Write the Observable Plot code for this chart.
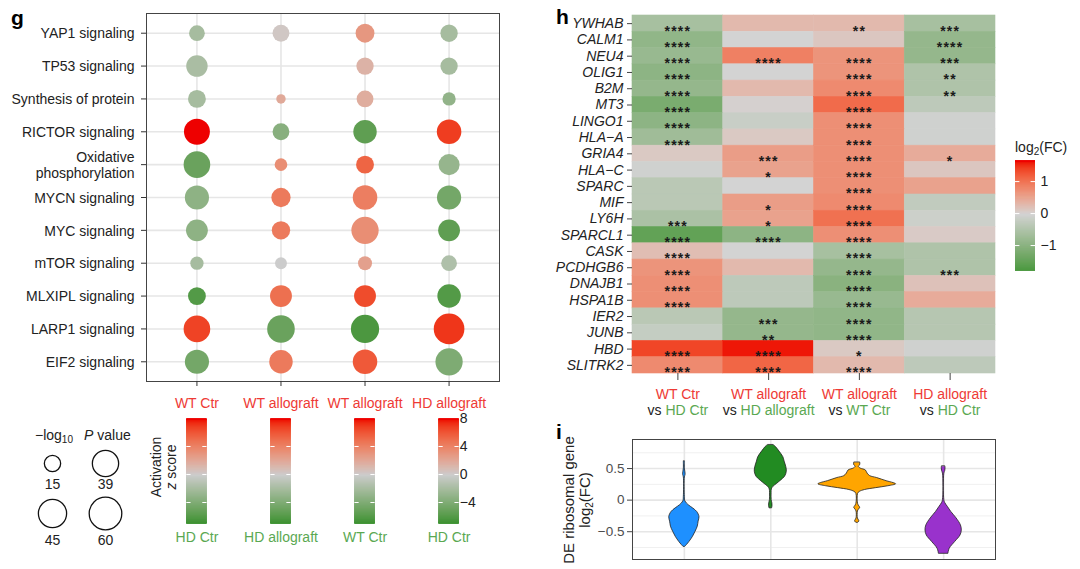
<!DOCTYPE html>
<html><head><meta charset="utf-8">
<script src="https://cdn.jsdelivr.net/npm/d3@7"></script>
<script src="https://cdn.jsdelivr.net/npm/@observablehq/plot@0.6"></script>
<style>
body{margin:0;background:#fff;font-family:"Liberation Sans",Arial,sans-serif;color:#222;}
#root{position:relative;width:1080px;height:569px;overflow:hidden;background:#fff;}
.abs{position:absolute;}
.abs svg{display:block;overflow:visible;}
.plab{position:absolute;font-weight:bold;font-size:21px;line-height:21px;color:#000;}
.txt{position:absolute;font-size:14px;line-height:16px;white-space:nowrap;}
.rot{position:absolute;transform:rotate(-90deg);text-align:center;font-size:14px;line-height:15px;white-space:nowrap;}
#heat g[aria-label="y-axis tick label"] text{font-style:italic;}
#heat g[aria-label="text"] text{letter-spacing:1.2px;}
</style></head><body><div id="root"></div>
<script>
// ---------------- DATA ----------------
// panel g
const pathways = ["YAP1 signaling","TP53 signaling","Synthesis of protein","RICTOR signaling","Oxidative\nphosphorylation","MYCN signaling","MYC signaling","mTOR signaling","MLXIPL signaling","LARP1 signaling","EIF2 signaling"];
const comparisons = ["c1","c2","c3","c4"];
const compTop = ["WT Ctr","WT allograft","WT allograft","HD allograft"];
const compBottom = ["HD Ctr","HD allograft","WT Ctr","HD Ctr"];
const zScores = [
  [-2.0, 0.3, 3.0, -2.0],
  [-1.8, null, 1.5, -2.0],
  [-2.0, 2.0, 1.8, -3.0],
  [8.0, -3.5, -5.5, 7.0],
  [-5.0, 3.5, 5.5, -2.8],
  [-3.2, 4.5, 4.3, -4.5],
  [-3.2, 4.5, 3.5, -5.5],
  [-2.0, 0.0, 2.5, -1.5],
  [-6.0, 5.0, 6.5, -6.0],
  [6.8, -5.0, -6.3, 7.2],
  [-4.5, 4.5, 6.0, -4.0]
];
const negLog10P = [
  [14, 16, 20, 17],
  [26, null, 17, 17],
  [18, 5, 16, 10],
  [38, 16, 31, 34],
  [40, 9, 18, 25],
  [33, 21, 34, 33],
  [27, 19, 42, 27],
  [10, 8, 11, 14],
  [18, 27, 27, 31],
  [40, 43, 45, 53],
  [33, 31, 34, 42]
];
const zTicks = [8, 4, 0, -4];
const sizeLegendValues = [15, 39, 45, 60];

// panel h
const genes = ["YWHAB","CALM1","NEU4","OLIG1","B2M","MT3","LINGO1","HLA−A","GRIA4","HLA−C","SPARC","MIF","LY6H","SPARCL1","CASK","PCDHGB6","DNAJB1","HSPA1B","IER2","JUNB","HBD","SLITRK2"];
const log2FC = [
  [-0.60, 0.30, 0.30, -0.60],
  [-0.90, 0.00, 0.15, -0.85],
  [-0.80, 0.90, 0.70, -0.85],
  [-0.95, 0.00, 0.70, -0.50],
  [-0.85, 0.30, 0.80, -0.50],
  [-1.20, 0.03, 1.10, -0.30],
  [-0.95, -0.15, 0.75, -0.05],
  [-0.70, 0.12, 0.75, -0.05],
  [0.12, 0.60, 0.75, 0.45],
  [-0.05, 0.55, 0.75, 0.15],
  [-0.35, 0.00, 0.75, 0.55],
  [-0.35, 0.60, 0.80, -0.25],
  [-0.55, 0.55, 1.05, -0.10],
  [-1.50, -0.95, 0.75, 0.10],
  [0.25, 0.00, -0.60, -0.50],
  [0.70, 0.30, -0.85, -0.50],
  [0.75, -0.30, -1.00, 0.20],
  [0.75, -0.30, -0.80, 0.45],
  [-0.35, -0.85, -0.90, -0.40],
  [-0.20, -0.85, -0.90, -0.40],
  [1.40, 1.62, 0.12, -0.05],
  [0.80, 1.15, 0.30, -0.30]
];
const stars = [
  ["****","","**","***"],
  ["****","","","****"],
  ["****","****","****","***"],
  ["****","","****","**"],
  ["****","","****","**"],
  ["****","","****",""],
  ["****","","****",""],
  ["****","","****",""],
  ["","***","****","*"],
  ["","*","****",""],
  ["","","****",""],
  ["","*","****",""],
  ["***","*","****",""],
  ["****","****","****",""],
  ["****","","****",""],
  ["****","","****","***"],
  ["****","","****",""],
  ["****","","****",""],
  ["","***","****",""],
  ["","**","****",""],
  ["****","****","*",""],
  ["****","****","****",""]
];
const fcTicks = [1, 0, -1];

// panel i : violin outlines [log2FC, half width]
const violinGroups = ["WT Ctr vs HD Ctr","WT allograft vs HD allograft","WT allograft vs WT Ctr","HD allograft vs HD Ctr"];
const violinFills = ["#1e90ff","#228b22","#ffa500","#9932cc"];
const violinBlue = [[0.61,0.006],[0.50,0.006],[0.44,0.012],[0.40,0.014],[0.36,0.006],[0.05,0.006],[-0.02,0.012],[-0.08,0.05],[-0.13,0.10],[-0.19,0.15],[-0.27,0.175],[-0.34,0.165],[-0.42,0.155],[-0.50,0.13],[-0.58,0.10],[-0.66,0.06],[-0.71,0.03],[-0.74,0.01]];
const violinGreen = [[0.87,0.035],[0.84,0.06],[0.77,0.10],[0.68,0.145],[0.61,0.16],[0.52,0.18],[0.45,0.185],[0.37,0.165],[0.30,0.11],[0.26,0.075],[0.21,0.03],[0.17,0.012],[0.11,0.009],[0.0,0.01],[-0.05,0.018],[-0.09,0.02],[-0.13,0.015]];
const violinOrange = [[0.59,0.035],[0.555,0.035],[0.53,0.018],[0.50,0.04],[0.47,0.10],[0.42,0.12],[0.38,0.15],[0.35,0.23],[0.30,0.34],[0.27,0.42],[0.25,0.45],[0.22,0.36],[0.19,0.22],[0.16,0.09],[0.13,0.03],[0.10,0.01],[-0.06,0.01],[-0.10,0.025],[-0.12,0.035],[-0.15,0.02],[-0.18,0.008],[-0.29,0.008],[-0.32,0.02],[-0.34,0.025],[-0.36,0.008]];
const violinPurple = [[0.53,0.02],[0.50,0.022],[0.46,0.018],[0.42,0.008],[0.0,0.008],[-0.05,0.02],[-0.11,0.05],[-0.19,0.09],[-0.29,0.15],[-0.40,0.20],[-0.48,0.21],[-0.56,0.195],[-0.66,0.135],[-0.77,0.07],[-0.85,0.055]];
const violinMajor = [-0.5, 0, 0.5];
const violinMinor = [-0.75, -0.25, 0.25, 0.75];

// ---------------- STYLE ----------------
const RED = "#ee3a35", GREEN = "#5aa852";
const FONT = '"Liberation Sans", Arial, sans-serif';
const zColor = {type: "linear", domain: [-7, 0, 8], range: ["#3a912f", "#cccccc", "#ee0000"], interpolate: "lab"};
const fcColor = {type: "linear", domain: [-1.78, 0, 1.66], range: ["#4a983f", "#d3d3d3", "#ee0000"], interpolate: "lab"};
const rScale = {domain: [0, 60], range: [0, 16.3]};

const root = document.getElementById("root");
function place(node, left, top, id) {
  const d = document.createElement("div");
  d.className = "abs"; d.style.left = left + "px"; d.style.top = top + "px";
  if (id) d.id = id;
  d.appendChild(node); root.appendChild(d); return d;
}
function html(cls, left, top, inner, extra) {
  const d = document.createElement("div");
  d.className = cls; d.style.left = left + "px"; d.style.top = top + "px";
  if (extra) Object.assign(d.style, extra);
  d.innerHTML = inner; root.appendChild(d); return d;
}

// ---------------- PANEL g ----------------
const dotData = [];
pathways.forEach((p, i) => comparisons.forEach((c, j) => {
  if (negLog10P[i][j] != null) dotData.push({pathway: p, comp: c, z: zScores[i][j], p: negLog10P[i][j]});
}));

const gPlot = Plot.plot({
  width: 510, height: 420,
  marginLeft: 146, marginRight: 11, marginTop: 13, marginBottom: 39,
  style: {fontFamily: FONT, fontSize: "14px", color: "#222", background: "transparent"},
  x: {type: "point", domain: comparisons, padding: 0.6, round: false},
  y: {type: "point", domain: pathways, padding: 0.6, round: false},
  r: rScale,
  color: zColor,
  marks: [
    Plot.gridX({stroke: "#e6e6e6", strokeOpacity: 1, strokeWidth: 1.6}),
    Plot.gridY({stroke: "#e6e6e6", strokeOpacity: 1, strokeWidth: 1.6}),
    Plot.frame({stroke: "#444", strokeWidth: 1}),
    Plot.axisY({tickSize: 5, tickPadding: 7, label: null, fontSize: 14, lineHeight: 1.15, stroke: "#333", fill: "#222"}),
    Plot.axisX({tickSize: 5, tickPadding: 12, label: null, fontSize: 14, stroke: "#333", fill: RED,
      tickFormat: d => compTop[comparisons.indexOf(d)]}),
    Plot.dot(dotData, {x: "comp", y: "pathway", r: "p", fill: "z", stroke: "none"})
  ]
});
place(gPlot, 0, 0);

// colour bars under panel g
const zSteps = d3.range(-7, 8.001, 0.05);
const zBars = [];
comparisons.forEach((c, i) => zSteps.forEach(v => zBars.push({i, v})));
const zTickMarks = [];
comparisons.forEach((c, i) => zTicks.filter(t => t !== 8).forEach(t => zTickMarks.push({i, t})));
const gBar = Plot.plot({
  width: 510, height: 136,
  marginLeft: 146, marginRight: 11, marginTop: 6, marginBottom: 25,
  style: {fontFamily: FONT, fontSize: "14px", color: "#222", background: "transparent"},
  x: {domain: [-0.6, 3.6], axis: null},
  y: {domain: [-7, 8], axis: null},
  color: zColor,
  marks: [
    Plot.ruleY(zBars, {y: d => Math.max(-6.9, Math.min(7.9, d.v)), x1: d => d.i - 0.12, x2: d => d.i + 0.12, stroke: "v", strokeWidth: 1.6}),
    Plot.ruleY(zTickMarks, {y: "t", x1: d => d.i - 0.12, x2: d => d.i - 0.07, stroke: "#fff", strokeWidth: 1}),
    Plot.ruleY(zTickMarks, {y: "t", x1: d => d.i + 0.07, x2: d => d.i + 0.12, stroke: "#fff", strokeWidth: 1}),
    Plot.text(zTicks, {x: 3.08, y: d => d, text: d => d3.format("")(d).replace("-", "−"), textAnchor: "start", dx: 4, fill: "#222", fontSize: 14}),
    Plot.text(compBottom, {x: (d, i) => i, y: -7, text: d => d, dy: 14, fill: GREEN, fontSize: 14})
  ]
});
place(gBar, 0, 412);
html("rot", 120, 451, 'Activation<br><i>z</i> score', {width: "90px", height: "32px"});

// size legend
const sizeLeg = sizeLegendValues.map((v, i) => ({v, col: i % 2, row: Math.floor(i / 2)}));
const sPlot = Plot.plot({
  width: 120, height: 115,
  marginLeft: 32, marginRight: 35, marginTop: 23, marginBottom: 42,
  style: {fontFamily: FONT, fontSize: "14px", color: "#222", background: "transparent"},
  x: {type: "point", domain: [0, 1], padding: 0, axis: null, round: false},
  y: {type: "point", domain: [0, 1], padding: 0, axis: null, round: false},
  r: rScale,
  marks: [
    Plot.dot(sizeLeg, {x: "col", y: "row", r: "v", fill: "none", stroke: "#111", strokeWidth: 1.3}),
    Plot.text(sizeLeg.filter(d => d.row === 0), {x: "col", y: "row", text: d => String(d.v), dy: 21, fill: "#222", fontSize: 14}),
    Plot.text(sizeLeg.filter(d => d.row === 1), {x: "col", y: "row", text: d => String(d.v), dy: 27, fill: "#222", fontSize: 14})
  ]
});
place(sPlot, 20, 440);
html("txt", 35, 427, '−log<sub style="font-size:10px;vertical-align:-3px">10</sub>');
html("txt", 84, 427, '<i>P</i> value');

// ---------------- PANEL h ----------------
const heatData = [];
genes.forEach((g, i) => comparisons.forEach((c, j) => heatData.push({gene: g, comp: c, v: log2FC[i][j], s: stars[i][j]})));
const heat = Plot.plot({
  width: 470, height: 430,
  marginLeft: 92, marginRight: 15, marginTop: 15, marginBottom: 57,
  style: {fontFamily: FONT, fontSize: "14px", color: "#222", background: "transparent"},
  x: {type: "band", domain: comparisons, padding: 0, round: false},
  y: {type: "band", domain: genes, padding: 0, round: false},
  color: fcColor,
  marks: [
    Plot.cell(heatData, {x: "comp", y: "gene", fill: "v", stroke: "v", strokeWidth: 0.6, inset: 0}),
    Plot.text(heatData.filter(d => d.s), {x: "comp", y: "gene", text: "s", dy: 7.5, fontSize: 14, fontWeight: "bold", fill: "#1a1a1a"}),
    Plot.axisY({tickSize: 5, tickPadding: 4, label: null, fontSize: 14, stroke: "#444", fill: "#222"}),
    Plot.axisX({tickSize: 7, tickPadding: 7, label: null, fontSize: 14, lineHeight: 1.15, stroke: "#444", fill: "#222",
      tickFormat: d => { const k = comparisons.indexOf(d); return compTop[k] + "\n" + "vs " + compBottom[k]; }})
  ]
});
d3.select(heat).selectAll('g[aria-label="x-axis tick label"] text').each(function (d, i) {
  const spans = this.querySelectorAll("tspan");
  if (spans.length >= 2) {
    spans[0].setAttribute("fill", RED);
    const s2 = spans[1];
    s2.textContent = "";
    const a = document.createElementNS("http://www.w3.org/2000/svg", "tspan");
    a.textContent = "vs "; a.setAttribute("fill", "#222");
    const b = document.createElementNS("http://www.w3.org/2000/svg", "tspan");
    b.textContent = compBottom[i]; b.setAttribute("fill", GREEN);
    s2.appendChild(a); s2.appendChild(b);
  }
});
place(heat, 540, 0, "heat");

// colour bar for panel h
const fcSteps = d3.range(-1.78, 1.661, 0.01);
const fcBar = Plot.plot({
  width: 60, height: 130,
  marginLeft: 5, marginRight: 35, marginTop: 10, marginBottom: 10,
  style: {fontFamily: FONT, fontSize: "14px", color: "#222", background: "transparent"},
  x: {domain: [0, 1], axis: null},
  y: {domain: [-1.78, 1.66], axis: null},
  color: fcColor,
  marks: [
    Plot.ruleY(fcSteps, {y: d => Math.max(-1.76, Math.min(1.64, d)), x1: 0, x2: 1, stroke: d => d, strokeWidth: 1.6}),
    Plot.ruleY(fcTicks, {y: d => d, x1: 0, x2: 0.22, stroke: "#fff", strokeWidth: 1}),
    Plot.ruleY(fcTicks, {y: d => d, x1: 0.78, x2: 1, stroke: "#fff", strokeWidth: 1}),
    Plot.text(fcTicks, {x: 1, y: d => d, text: d => d3.format("")(d).replace("-", "−"), textAnchor: "start", dx: 5, fill: "#222", fontSize: 14})
  ]
});
place(fcBar, 1010, 150);
html("txt", 1015, 139, 'log<sub style="font-size:10px;vertical-align:-3px">2</sub>(FC)');

// ---------------- PANEL i ----------------
const violinData = [];
[violinBlue, violinGreen, violinOrange, violinPurple].forEach((arr, g) =>
  arr.forEach(([y, w]) => violinData.push({g, y, w})));
const vio = Plot.plot({
  width: 470, height: 144,
  marginLeft: 92, marginRight: 15, marginTop: 14, marginBottom: 10,
  style: {fontFamily: FONT, fontSize: "13px", color: "#4d4d4d", background: "transparent"},
  x: {domain: [-0.6, 3.6], axis: null},
  y: {domain: [-0.94, 0.96]},
  marks: [
    Plot.ruleY(violinMinor, {stroke: "#f0f0f0", strokeWidth: 1}),
    Plot.ruleY(violinMajor, {stroke: "#e6e6e6", strokeWidth: 1.6}),
    Plot.ruleX([0, 1, 2, 3], {stroke: "#e6e6e6", strokeWidth: 1.6}),
    Plot.frame({stroke: "#444"}),
    Plot.axisY(violinMajor, {tickSize: 5, tickPadding: 3, label: null, fontSize: 13.5, stroke: "#444", fill: "#4d4d4d",
      tickFormat: d => d === 0 ? "0" : d3.format(".1f")(d).replace("-", "−")}),
    Plot.areaX(violinData, {y: "y", x1: d => d.g - d.w, x2: d => d.g + d.w, z: "g",
      fill: d => violinFills[d.g], stroke: "#222", strokeWidth: 0.8, curve: "catmull-rom"})
  ]
});
place(vio, 540, 425);
html("rot", 503, 483, 'DE ribosomal gene<br>log<sub style="font-size:10px;vertical-align:-3px;line-height:0">2</sub>(FC)', {width: "150px", height: "34px", color: "#222", fontSize: "15px", lineHeight: "16px"});

// panel letters
html("plab", 11, 7, "g");
html("plab", 556, 6, "h");
html("plab", 556, 421, "i");
</script></body></html>
